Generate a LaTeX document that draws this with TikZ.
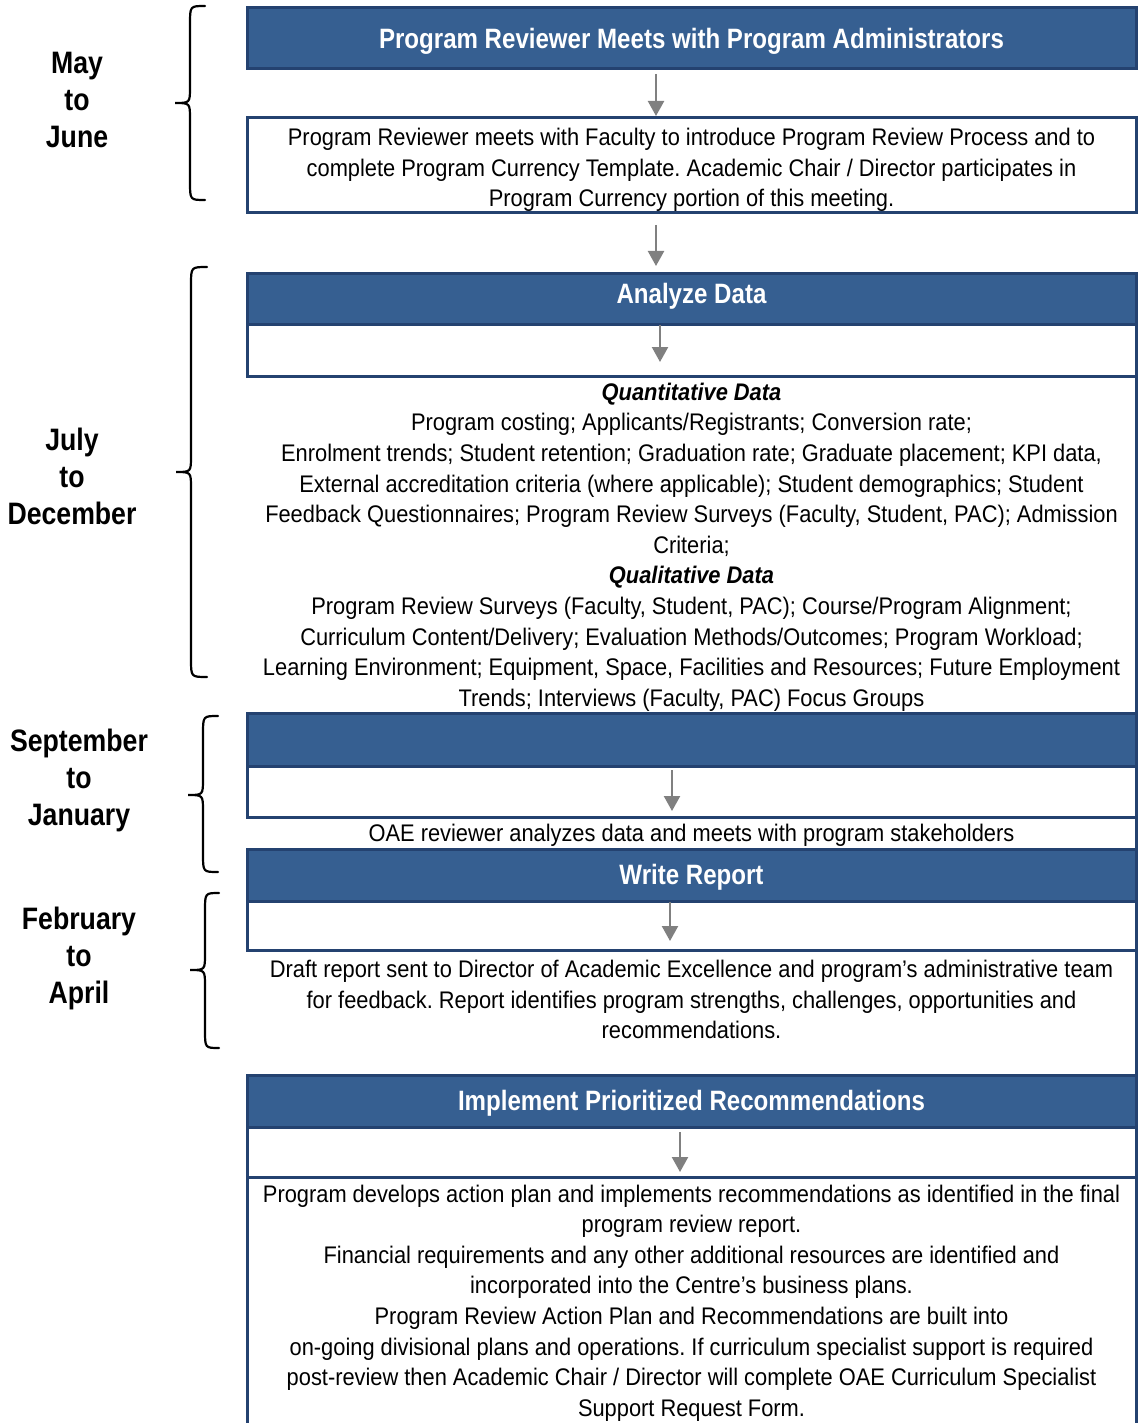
\documentclass[tikz,border=0pt]{standalone}
\usepackage{fontspec}
\setmainfont{Liberation Sans}[UprightFeatures={FakeStretch=0.91}, ItalicFeatures={FakeStretch=0.91}, BoldFeatures={FakeStretch=0.86}, BoldItalicFeatures={FakeStretch=0.91}]
\usetikzlibrary{arrows.meta}
\definecolor{hdrfill}{RGB}{54,95,145}
\definecolor{hdrline}{RGB}{36,66,112}
\definecolor{arrgray}{RGB}{128,128,128}
\newcommand\mybrace[6]{\draw[brace] (#1,#2) .. controls (#4,#2) .. (#4,#2+18) -- (#4,#6-16) .. controls (#4,#6) .. (#5,#6) .. controls (#4,#6) .. (#4,#6+16) -- (#4,#3-18) .. controls (#4,#3) .. (#1,#3);}
\newcommand\hdrtext[2]{\raisebox{#1}[\height][\depth]{#2}}
\frenchspacing
\begin{document}
\begin{tikzpicture}[x=1pt,y=-1pt,
 hdr/.style={draw=hdrline, line width=3pt, fill=hdrfill, text=white, font=\bfseries\fontsize{28}{32}\selectfont, minimum width=889pt, inner sep=0pt, outer sep=0pt, anchor=north west},
 wbox/.style={draw=hdrline, line width=3pt, fill=white, minimum width=889pt, inner sep=0pt, outer sep=0pt, anchor=north},
 body/.style={font=\fontsize{24}{30.6}\selectfont, align=center, inner sep=0pt},
 month/.style={font=\bfseries\fontsize{31}{37}\selectfont, align=center, inner sep=0pt},
 arr/.style={draw=arrgray, line width=2.3pt, -{Triangle[length=15pt,width=16pt]}},
 brace/.style={draw=black, line width=2.2pt, line cap=round}]
\useasboundingbox (0,0) rectangle (1138,1423);

% month labels
\node[month] (m1) at (77,100) {May\\to\\June};
\node[month] (m2) at (72,476) {July\\to\\December};
\node[month] (m3) at (79,780) {September\\to\\January};
\node[month] (m4) at (79,958) {February\\to\\April};

% braces
\mybrace{205}{6}{200}{190}{175}{103}
\mybrace{207}{267}{677}{191}{176}{472}
\mybrace{218}{716}{872}{203}{188}{795}
\mybrace{219}{893}{1048}{205}{190}{970}

% right edge line
\draw[draw=hdrline, line width=3pt] (1136,273) -- (1136,1440);

% step 1
\node[hdr, minimum height=61pt] (h1) at (247,8) {\hdrtext{-2.5pt}{Program Reviewer Meets with Program Administrators}};
\node[wbox, minimum height=95pt] (b1) at (691.5,118) {};
\node[body] (t1) at (691.5,170) {Program Reviewer meets with Faculty to introduce Program Review Process and to\\complete Program Currency Template. Academic Chair / Director participates in\\Program Currency portion of this meeting.};

% step 2
\node[hdr, minimum height=51pt] (h3) at (247,273) {\hdrtext{2.5pt}{Analyze Data}};
\node[wbox, minimum height=52pt] (w3) at (h3.south) {};
\node[body] (q) at (691.5,547) {\textbf{\textit{Quantitative Data}}\\
Program costing; Applicants/Registrants; Conversion rate;\\
Enrolment trends; Student retention; Graduation rate; Graduate placement; KPI data,\\
External accreditation criteria (where applicable); Student demographics; Student\\
Feedback Questionnaires; Program Review Surveys (Faculty, Student, PAC); Admission\\
Criteria;\\
\textbf{\textit{Qualitative Data}}\\
Program Review Surveys (Faculty, Student, PAC); Course/Program Alignment;\\
Curriculum Content/Delivery; Evaluation Methods/Outcomes; Program Workload;\\
Learning Environment; Equipment, Space, Facilities and Resources; Future Employment\\
Trends; Interviews (Faculty, PAC) Focus Groups};

% step 3
\node[hdr, minimum height=53pt] (h4) at (247,713) {};
\node[wbox, minimum height=51pt] (w4) at (h4.south) {};
\node[body] (oae) at (691.5,835) {OAE reviewer analyzes data and meets with program stakeholders};

% step 4
\node[hdr, minimum height=52pt] (h5) at (247,849) {\hdrtext{-2pt}{Write Report}};
\node[wbox, minimum height=49pt] (w5) at (h5.south) {};
\node[body] (dr) at (691.5,999.5) {Draft report sent to Director of Academic Excellence and program’s administrative team\\for feedback. Report identifies program strengths, challenges, opportunities and\\recommendations.};

% step 5
\node[hdr, minimum height=52pt] (h6) at (247,1075) {\hdrtext{-2.5pt}{Implement Prioritized Recommendations}};
\node[wbox, minimum height=50pt] (w6) at (h6.south) {};
\node[wbox, minimum height=270pt] (b6) at (w6.south) {};
\node[body] (t6) at (691.5,1303) {Program develops action plan and implements recommendations as identified in the final\\
program review report.\\
Financial requirements and any other additional resources are identified and\\
incorporated into the Centre’s business plans.\\
Program Review Action Plan and Recommendations are built into\\
on-going divisional plans and operations. If curriculum specialist support is required\\
post-review then Academic Chair / Director will complete OAE Curriculum Specialist\\
Support Request Form.};

% arrows
\draw[arr, shorten <=5pt, shorten >=2pt] ([xshift=-35.5pt]h1.south) -- ([xshift=-35.5pt]b1.north);
\draw[arr, shorten <=12pt, shorten >=7pt] ([xshift=-35.5pt]b1.south) -- ([xshift=-35.5pt]h3.north);
\draw[arr, shorten <=1pt, shorten >=14pt] ([xshift=-31.5pt]w3.north) -- ([xshift=-31.5pt]w3.south);
\draw[arr, shorten <=4pt, shorten >=6pt] ([xshift=-19.5pt]w4.north) -- ([xshift=-19.5pt]w4.south);
\draw[arr, shorten <=1pt, shorten >=9pt] ([xshift=-21.5pt]w5.north) -- ([xshift=-21.5pt]w5.south);
\draw[arr, shorten <=5pt, shorten >=5pt] ([xshift=-11.5pt]w6.north) -- ([xshift=-11.5pt]w6.south);
\end{tikzpicture}
\end{document}
